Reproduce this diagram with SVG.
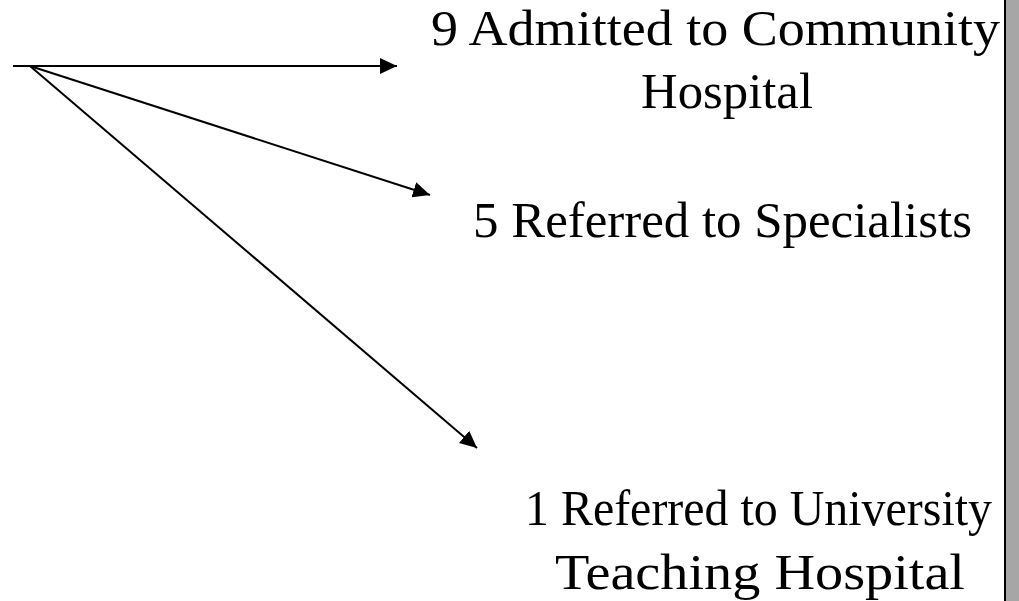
<svg xmlns="http://www.w3.org/2000/svg" width="1019" height="601" viewBox="0 0 1019 601">
<style>
.t{font-family:"Liberation Serif","DejaVu Serif",serif;font-size:50px;fill:#000}
.c{stroke:#000;stroke-width:2;fill:none}
</style>
<defs>
<marker id="ah" markerUnits="userSpaceOnUse" markerWidth="18" markerHeight="16" refX="17" refY="8" orient="auto">
<path d="M0,0 L17,8 L0,16 Z" fill="#000"/>
</marker>
</defs>
<rect x="0" y="0" width="1019" height="601" fill="#fff"/>
<rect x="1006" y="0" width="13" height="601" fill="#a6a6a6"/>
<line x1="1005" y1="0" x2="1005" y2="601" stroke="#000" stroke-width="2"/>
<g id="connectors">
<line class="c" x1="13" y1="66" x2="397" y2="66" marker-end="url(#ah)"/>
<line class="c" x1="30" y1="66" x2="430" y2="195" marker-end="url(#ah)"/>
<line class="c" x1="30" y1="66" x2="477" y2="448" marker-end="url(#ah)"/>
</g>
<g id="node-admitted">
<text class="t" x="431" y="45" textLength="569" lengthAdjust="spacingAndGlyphs">9 Admitted to Community</text>
<text class="t" x="641" y="108" textLength="172" lengthAdjust="spacingAndGlyphs">Hospital</text>
</g>
<g id="node-specialists">
<text class="t" x="473" y="237" textLength="499" lengthAdjust="spacingAndGlyphs">5 Referred to Specialists</text>
</g>
<g id="node-university">
<text class="t" x="525" y="525" textLength="467" lengthAdjust="spacingAndGlyphs">1 Referred to University</text>
<text class="t" x="555" y="589" textLength="410" lengthAdjust="spacingAndGlyphs">Teaching Hospital</text>
</g>
</svg>
